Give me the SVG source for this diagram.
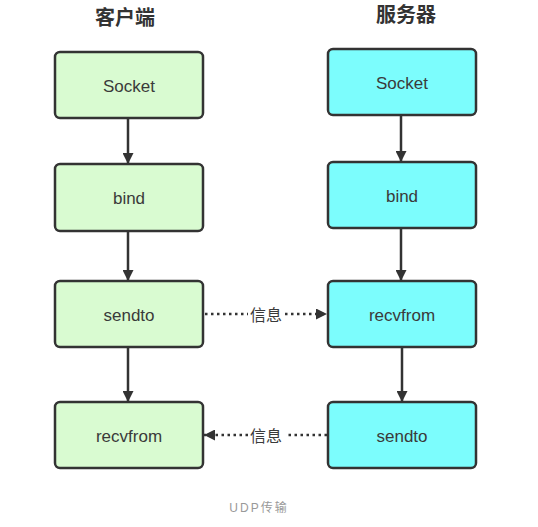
<svg xmlns="http://www.w3.org/2000/svg" width="538" height="527" viewBox="0 0 538 527">
<defs>
<marker id="ah" viewBox="0 0 10 10" refX="10" refY="5" markerWidth="4.4" markerHeight="4.4" orient="auto" markerUnits="strokeWidth">
<path d="M0,0 L10,5 L0,10 z" fill="#333"/>
</marker>
</defs>
<style>
.box{stroke:#333;stroke-width:2.5}
.g{fill:#d9fbd1}
.c{fill:#7cfdfd}
.t{font-family:"Liberation Sans","Noto Sans CJK SC",sans-serif;font-size:17px;fill:#3a3a3a;text-anchor:middle;dominant-baseline:central}
.h{font-family:"Noto Sans CJK SC",sans-serif;font-size:20px;font-weight:bold;fill:#333;text-anchor:middle}
.l{font-family:"Noto Sans CJK SC",sans-serif;font-size:16px;fill:#3a3a3a;text-anchor:middle;dominant-baseline:central}
.e{stroke:#333;stroke-width:2.5;fill:none}
.d{stroke:#333;stroke-width:2.5;fill:none;stroke-dasharray:2.5 3.5}
</style>
<rect width="538" height="527" fill="#fff"/>
<text class="h" x="125" y="25">客户端</text>
<text class="h" x="406" y="22">服务器</text>
<g id="c-socket"><rect class="box g" x="55" y="52" width="148" height="66" rx="5"/><text class="t" x="129" y="86">Socket</text></g>
<g id="c-bind"><rect class="box g" x="55" y="164" width="148" height="67" rx="5"/><text class="t" x="129" y="198">bind</text></g>
<g id="c-sendto"><rect class="box g" x="55" y="281" width="148" height="66" rx="5"/><text class="t" x="129" y="315">sendto</text></g>
<g id="c-recvfrom"><rect class="box g" x="55" y="402" width="148" height="66" rx="5"/><text class="t" x="129" y="436">recvfrom</text></g>
<g id="s-socket"><rect class="box c" x="328" y="49" width="148" height="66" rx="5"/><text class="t" x="402" y="83">Socket</text></g>
<g id="s-bind"><rect class="box c" x="328" y="162" width="148" height="66" rx="5"/><text class="t" x="402" y="196">bind</text></g>
<g id="s-recvfrom"><rect class="box c" x="328" y="281" width="148" height="66" rx="5"/><text class="t" x="402" y="315">recvfrom</text></g>
<g id="s-sendto"><rect class="box c" x="328" y="402" width="148" height="66" rx="5"/><text class="t" x="402" y="436">sendto</text></g>
<g id="connectors">
<line class="e" x1="128" y1="118" x2="128" y2="164" marker-end="url(#ah)"/>
<line class="e" x1="128" y1="231" x2="128" y2="281" marker-end="url(#ah)"/>
<line class="e" x1="128" y1="347" x2="128" y2="402" marker-end="url(#ah)"/>
<line class="e" x1="401" y1="115" x2="401" y2="162" marker-end="url(#ah)"/>
<line class="e" x1="401" y1="228" x2="401" y2="281" marker-end="url(#ah)"/>
<line class="e" x1="402" y1="347" x2="402" y2="402" marker-end="url(#ah)"/>
<line class="d" x1="205" y1="314" x2="248" y2="314"/>
<line class="d" x1="285" y1="314" x2="327" y2="314" marker-end="url(#ah)"/>
<text class="l" x="266" y="314">信息</text>
<line class="d" x1="327" y1="435" x2="285" y2="435"/>
<line class="d" x1="248" y1="435" x2="204" y2="435" marker-end="url(#ah)"/>
<text class="l" x="266" y="435">信息</text>
</g>
<text x="259" y="512" font-family="'Liberation Sans','Noto Sans CJK SC',sans-serif" font-size="12" fill="#999" text-anchor="middle" letter-spacing="2">UDP传输</text>
</svg>
